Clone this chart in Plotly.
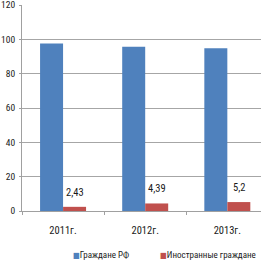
import plotly.graph_objects as go

categories = ["2011г.", "2012г.", "2013г."]
citizens_rf = [97.57, 95.61, 94.8]
foreign = [2.43, 4.39, 5.2]
foreign_labels = ["2,43", "4,39", "5,2"]
y_ticks = [0, 20, 40, 60, 80, 100, 120]
series_names = ["Граждане РФ", "Иностранные граждане"]
colors = ["#4F81BD", "#C0504D"]

FONT = "Roboto Condensed, DejaVu Sans Condensed, sans-serif"
TXT = "#1a1a1a"
BARGAP = 0.44

fig = go.Figure()
fig.add_trace(go.Bar(x=categories, y=citizens_rf, name=series_names[0],
                     marker=dict(color=colors[0], line=dict(width=0))))
fig.add_trace(go.Bar(x=categories, y=foreign, name=series_names[1],
                     marker=dict(color=colors[1], line=dict(width=0))))

# data labels above the red bars
half_bar = (1 - BARGAP) / 4
for i, (v, lab) in enumerate(zip(foreign, foreign_labels)):
    fig.add_annotation(x=i + half_bar, y=v, xref="x", yref="y", text=lab,
                       showarrow=False, yanchor="bottom", yshift=6,
                       font=dict(family=FONT, size=10.5, color=TXT))

# legend (drawn as text below the plot)
leg_x = [0.207, 0.570]
for name, col, lx in zip(series_names, colors, leg_x):
    fig.add_annotation(x=lx, y=-0.216, xref="paper", yref="paper", xanchor="left",
                       yanchor="middle", showarrow=False,
                       text=f"<span style='color:{col};font-size:8px'>■</span>{name}",
                       font=dict(family=FONT, size=9, color=TXT))

fig.update_layout(
    width=261, height=262,
    margin=dict(l=22, r=0, t=5, b=51, autoexpand=False),
    paper_bgcolor="white", plot_bgcolor="white",
    barmode="group", bargap=BARGAP, bargroupgap=0,
    font=dict(family=FONT, size=10.5, color=TXT),
    showlegend=False,
)
fig.update_xaxes(type="category", range=[-0.5, 2.41], showgrid=False,
                 showline=True, linecolor="#A0A0A0", linewidth=1,
                 ticks="outside", ticklen=3, tickcolor="#A0A0A0", tickson="boundaries",
                 tickfont=dict(size=10.5), ticklabelstandoff=9,
                 ticklabeloverflow="allow")
fig.update_yaxes(range=[0, 120], tickvals=y_ticks, showgrid=True,
                 gridcolor="#A6A6A6", gridwidth=1, zeroline=False,
                 showline=True, linecolor="#A0A0A0", linewidth=1,
                 ticks="outside", ticklen=2, tickcolor="#A0A0A0",
                 tickfont=dict(size=9.5), ticklabelstandoff=2,
                 ticklabeloverflow="allow")

fig.write_html("out.html")
